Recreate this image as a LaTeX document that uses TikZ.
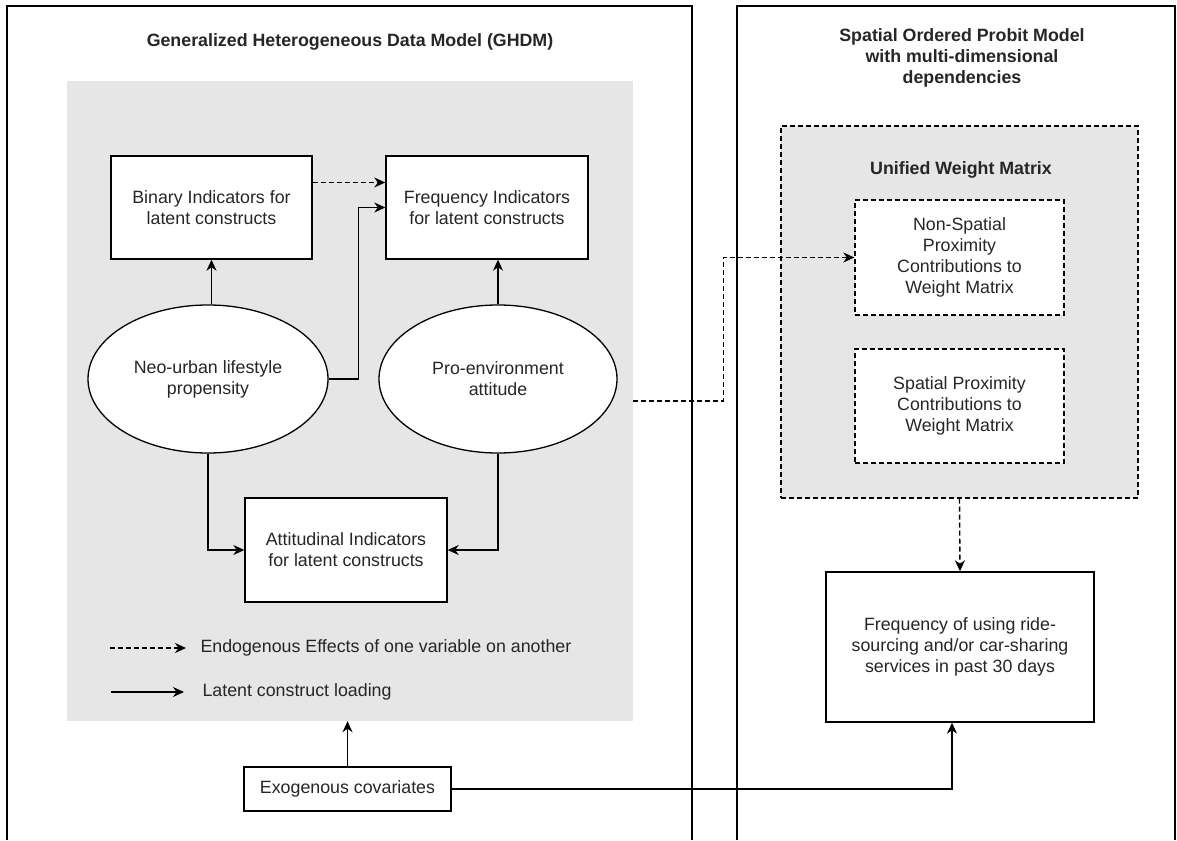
\documentclass[tikz,border=0pt]{standalone}
\usepackage{fontspec}
\setmainfont{Liberation Sans}
\usetikzlibrary{arrows.meta,positioning,shapes.geometric}
\definecolor{panel}{HTML}{E6E6E6}

\begin{document}
\begin{tikzpicture}[x=1pt,y=-1pt,on grid,node distance=100pt,
    every node/.style={font=\fontsize{17.8}{21}\selectfont,text=black!85},
    box/.style={draw,line width=1.4pt,fill=white,align=center,inner sep=0pt},
    dbox/.style={box,dash pattern=on 5pt off 3pt},
    latent/.style={ellipse,draw,line width=1.3pt,fill=white,align=center,inner sep=0pt},
    load/.style={line width=1.4pt,-{Stealth[length=11pt,width=10pt,inset=3.5pt]}},
    endo/.style={load,dash pattern=on 5pt off 3pt},
    hd/.style={font=\fontsize{17.8}{21}\selectfont\bfseries,align=center}]

    \useasboundingbox (0,0) rectangle (1177,840);
    \fill[white] (0,0) rectangle (1177,840);

    \draw[line width=1.4pt] (7,840) -- (7,6) -- (692,6) -- (692,840);
    \draw[line width=1.4pt] (737,840) -- (737,6) -- (1175,6) -- (1175,840);

    \node[hd] (t_ghdm) at (350,42) {Generalized Heterogeneous Data Model (GHDM)};
    \node[hd] (t_sop) at (962,58) {Spatial Ordered Probit Model\\with multi-dimensional\\dependencies};

    \node[fill=panel,minimum width=566pt,minimum height=640pt,inner sep=0pt] (ghdm) at (350,401) {};

    \node[box,minimum width=201pt,minimum height=103pt] (ind_bin) at (211.5,207.5) {Binary Indicators for\\latent constructs};
    \node[box,minimum width=202pt,minimum height=103pt] (ind_freq) [right=275.5pt of ind_bin] {Frequency Indicators\\for latent constructs};
    \node[latent,minimum width=240pt,minimum height=148pt] (lat_neo) at (208,379) {Neo-urban lifestyle\\propensity};
    \node[latent,minimum width=238pt,minimum height=148pt] (lat_pro) [right=290pt of lat_neo] {Pro-environment\\attitude};
    \node[box,minimum width=202pt,minimum height=104pt] (ind_att) at (346,550) {Attitudinal Indicators\\for latent constructs};

    \coordinate (k_endo) at (110,648);
    \coordinate (k_load) at (111,692);
    \draw[endo] (k_endo) -- ++(76,0);
    \draw[load] (k_load) -- ++(73,0);
    \node[anchor=west] (k_endo_txt) at (197,648) {Endogenous Effects of one variable on another};
    \node[anchor=west] (k_load_txt) at (199,692) {Latent construct loading};

    \node[box,minimum width=207pt,minimum height=44pt] (exo) at (347.5,789) {Exogenous covariates};

    \node[dbox,fill=panel,minimum width=357pt,minimum height=372pt] (uwm) at (959.5,312) {};
    \node[hd] (t_uwm) at (961,170) {Unified Weight Matrix};
    \node[dbox,minimum width=209pt,minimum height=115pt] (w_nonsp) at (959.5,257.5) {Non-Spatial\\Proximity\\Contributions to\\Weight Matrix};
    \node[dbox,minimum width=209pt,minimum height=114pt] (w_sp) [below=148.5pt of w_nonsp] {Spatial Proximity\\Contributions to\\Weight Matrix};
    \node[box,minimum width=268pt,minimum height=150pt] (out_freq) at (960,647) {Frequency of using ride-\\sourcing and/or car-sharing\\services in past 30 days};

    \draw[load] (lat_neo.north -| ind_bin.south) -- (ind_bin.south);
    \draw[load] (lat_pro.north) -- (lat_pro.north |- ind_freq.south);
    \draw[load] (lat_neo.east) -- ++(30,0) |- (ind_freq.west);
    \draw[endo] ([yshift=25pt]ind_bin.east) -- ([yshift=25pt]ind_freq.west);
    \draw[load] (lat_neo.south) |- (ind_att.west);
    \draw[load] (lat_pro.south) |- (ind_att.east);
    \draw[load] (exo.north) -- (exo.north |- ghdm.south);
    \draw[load] (exo.east) -| ([xshift=-8pt]out_freq.south);
    \draw[endo] (ghdm.east) -- ++(90,0) |- (w_nonsp.west);
    \draw[endo] (uwm.south) -- (out_freq.north);
\end{tikzpicture}
\end{document}
